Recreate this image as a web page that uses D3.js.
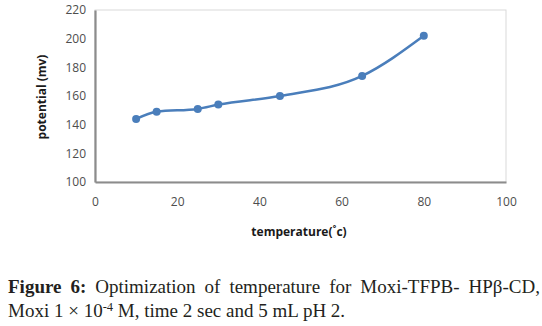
<!DOCTYPE html>
<html>
<head>
<meta charset="utf-8">
<script src="https://cdn.jsdelivr.net/npm/d3@7"></script>
<style>
  html, body { margin: 0; padding: 0; background: #fff; }
  svg { display: block; }
</style>
</head>
<body>
<svg id="chart" width="542" height="326"></svg>
<script>
const temperature = [10, 15, 25, 30, 45, 65, 80];
const potential = [144, 149, 151, 154, 160, 174, 202];
const xTicks = [0, 20, 40, 60, 80, 100];
const yTicks = [100, 120, 140, 160, 180, 200, 220];
const xTitle = "temperature(˚c)";
const yTitle = "potential (mv)";
const captionBold = "Figure 6:";
const captionLine1 = "Optimization of temperature for Moxi-TFPB- HPβ-CD,";

const svg = d3.select("#chart");
const pLeft = 95, pRight = 506, pTop = 10, pBottom = 182;

const x = d3.scaleLinear().domain([0, 100]).range([pLeft, pRight]);
const y = d3.scaleLinear().domain([100, 220]).range([pBottom, pTop]);

// plot frame
svg.append("rect").attr("x", pLeft).attr("y", pTop)
  .attr("width", pRight - pLeft).attr("height", pBottom - pTop)
  .attr("fill", "none").attr("stroke", "#d9d9d9").attr("stroke-width", 1);

// axes
const xAxis = svg.append("g").attr("transform", `translate(0,${pBottom})`)
  .call(d3.axisBottom(x).tickValues(xTicks).tickSize(0).tickPadding(15));
const yAxis = svg.append("g").attr("transform", `translate(${pLeft},0)`)
  .call(d3.axisLeft(y).tickValues(yTicks).tickSize(0).tickPadding(9));
[xAxis, yAxis].forEach(a => {
  a.select(".domain").attr("stroke", "#8c8c8c").attr("stroke-width", 2.2);
  a.selectAll("text").attr("fill", "#4d4d4d")
    .style("font-family", "'Open Sans', 'Liberation Sans', sans-serif")
    .style("font-size", "12px");
});

// line
const pts = temperature.map((t, i) => [t, potential[i]]);
const line = d3.line().x(d => x(d[0])).y(d => y(d[1])).curve(d3.curveMonotoneX);
svg.append("path").datum(pts).attr("d", line)
  .attr("fill", "none").attr("stroke", "#4a7ebb").attr("stroke-width", 2.5);
svg.selectAll("circle.pt").data(pts).join("circle").attr("class", "pt")
  .attr("cx", d => x(d[0])).attr("cy", d => y(d[1])).attr("r", 4)
  .attr("fill", "#4a7ebb");

// axis titles
svg.append("text").attr("x", 299).attr("y", 236).attr("text-anchor", "middle")
  .style("font-family", "'Open Sans', 'Liberation Sans', sans-serif")
  .style("font-size", "12px").style("font-weight", "bold").attr("fill", "#1a1a1a")
  .text(xTitle);
svg.append("text").attr("transform", "translate(46,97) rotate(-90)").attr("text-anchor", "middle")
  .style("font-family", "'Open Sans', 'Liberation Sans', sans-serif")
  .style("font-size", "12px").style("font-weight", "bold").attr("fill", "#1a1a1a")
  .text(yTitle);

// caption
const capFont = "'Liberation Serif', 'DejaVu Serif', serif";
const lineLeft = 8, lineRight = 540, base1 = 293, base2 = 317;

// caption line 2 (sized so it spans like the reference)
const l2 = svg.append("text").attr("x", lineLeft).attr("y", base2)
  .style("font-family", capFont).style("font-size", "16px").attr("fill", "#231f20");
l2.append("tspan").text("Moxi 1 × 10");
const sup = l2.append("tspan").attr("dy", -6).style("font-size", "11px").text("-4");
l2.append("tspan").attr("dy", 6).text(" M, time 2 sec and 5 mL pH 2.");
const w2 = l2.node().getComputedTextLength();
const capPx = Math.min(19, 16 * 340 / w2);
l2.style("font-size", capPx + "px");
sup.style("font-size", (capPx * 0.66) + "px");

// caption line 1 (justified)
const words = captionBold.split(" ").concat(captionLine1.split(" "));
const boldCount = 2;
const wordNodes = words.map((w, i) => svg.append("text").attr("y", base1)
  .style("font-family", capFont).style("font-size", capPx + "px")
  .style("font-weight", i < boldCount ? "bold" : "normal").attr("fill", "#231f20").text(w));
const widths = wordNodes.map(n => n.node().getComputedTextLength());
const total = d3.sum(widths);
const gap = (lineRight - lineLeft - total) / (words.length - 1);
let cx = lineLeft;
wordNodes.forEach((n, i) => { n.attr("x", cx); cx += widths[i] + gap; });
</script>
</body>
</html>
